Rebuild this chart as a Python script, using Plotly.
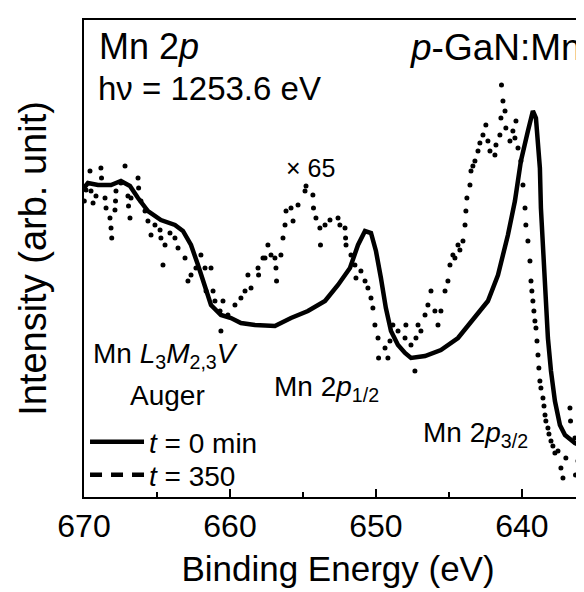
import plotly.graph_objects as go

# ---- data (binding energy in eV, intensity in arb. units) ----
be_t0 = [670.0, 669.73, 669.04, 668.15, 667.47, 666.85, 666.30, 665.62, 664.73, 663.77,
         663.22, 662.67, 662.19, 661.71, 661.30, 660.62, 659.93, 659.25, 658.29, 656.92,
         655.82, 654.66, 653.49, 652.60, 651.78, 651.23, 650.75, 650.34, 650.00, 649.66,
         649.32, 648.97, 648.49, 648.01, 647.60, 646.64, 645.55, 644.38, 643.22, 642.33,
         641.64, 640.96, 640.48, 640.07, 639.59, 639.25, 639.04, 638.77, 638.70, 638.56,
         638.42, 638.22, 638.01, 637.74, 637.40, 637.05, 636.37, 635.27]
int_t0 = [309, 314, 312, 312, 316, 311, 299, 286, 277, 272,
          266, 252, 232, 209, 192, 182, 179, 174, 172, 171,
          179, 186, 196, 212, 229, 252, 266, 264, 246, 219,
          189, 166, 152, 144, 139, 141, 147, 159, 179, 196,
          222, 262, 296, 336, 366, 386, 379, 329, 289, 246,
          202, 159, 126, 96, 72, 62, 54, 46]

be_t350 = [669.98, 669.86, 669.59, 669.52, 669.38, 669.18, 668.84, 668.80, 668.56, 668.49,
           668.22, 668.15, 668.10, 667.88, 667.84, 667.81, 667.47, 667.19, 666.99, 666.95,
           666.85, 666.78, 666.30, 666.26, 666.10, 665.82, 665.62, 665.41, 665.14, 664.79,
           664.73, 664.59, 664.45, 664.11, 663.77, 663.56, 663.08, 662.88, 662.67, 662.33,
           661.99, 661.71, 661.64, 661.30, 661.16, 661.03, 660.68, 660.62, 660.48, 660.14,
           659.66, 659.25, 658.97, 658.77, 658.56, 658.08, 658.04, 657.74, 657.60, 657.40,
           657.19, 656.92, 656.85, 656.81, 656.51, 656.37, 656.23, 656.16, 655.82, 655.68,
           655.34, 654.86, 654.79, 654.32, 654.28, 654.11, 653.84, 653.80, 653.49, 653.15,
           652.60, 652.47, 652.12, 652.08, 652.05, 651.71, 651.44, 651.37, 651.03, 650.75,
           650.55, 650.34, 650.21, 650.07, 649.86, 649.82, 649.38, 649.18, 649.04, 648.84,
           648.49, 648.01, 647.95, 647.60, 647.33, 647.26, 647.12, 646.92, 646.64, 646.44,
           646.23, 645.96, 645.75, 645.55, 645.27, 645.07, 644.93, 644.73, 644.59, 644.38,
           644.25, 644.04, 643.90, 643.84, 643.77, 643.56, 643.49, 643.36, 643.22, 643.01,
           642.88, 642.67, 642.47, 642.33, 642.19, 641.85, 641.78, 641.51, 641.44, 641.40,
           641.30, 641.16, 641.10, 640.82, 640.62, 640.48, 640.41, 640.27, 640.07, 639.93,
           639.79, 639.73, 639.59, 639.45, 639.38, 639.32, 639.25, 639.18, 639.11, 639.04,
           638.97, 638.90, 638.84, 638.77, 638.70, 638.56, 638.49, 638.42, 638.36, 638.22,
           638.15, 638.01, 637.88, 637.74, 637.53, 637.33, 637.19, 636.99, 636.71, 636.67,
           636.37, 636.33, 636.16, 635.96, 635.68, 635.34]
int_t350 = [296, 307, 326, 306, 294, 301, 329, 319, 299, 289,
            279, 269, 259, 287, 296, 306, 314, 331, 301, 291,
            279, 299, 319, 309, 296, 286, 276, 262, 272, 267,
            259, 232, 252, 264, 259, 249, 239, 216, 222, 229,
            242, 229, 206, 229, 206, 196, 186, 166, 196, 182,
            192, 199, 206, 222, 209, 229, 222, 239, 239, 252,
            242, 239, 229, 216, 242, 259, 272, 286, 289, 276,
            292, 306, 311, 302, 289, 279, 269, 252, 272, 277,
            279, 272, 269, 259, 252, 242, 232, 219, 226, 216,
            209, 199, 189, 172, 159, 139, 149, 139, 156, 172,
            166, 159, 172, 152, 126, 159, 172, 166, 182, 192,
            206, 186, 172, 186, 206, 216, 232, 242, 239, 252,
            247, 256, 272, 286, 299, 312, 326, 331, 336, 346,
            354, 362, 372, 356, 346, 342, 352, 362, 379, 412,
            396, 386, 369, 356, 366, 359, 376, 349, 336, 312,
            289, 272, 256, 236, 216, 206, 196, 186, 176, 169,
            156, 142, 129, 116, 109, 99, 91, 82, 76, 69,
            63, 56, 51, 44, 46, 29, 19, 39, 89, 76,
            59, 22, 36, 49, 69, 76]

x_ticks = [670, 660, 650, 640]
x_tick_labels = ["670", "660", "650", "640"]

FONT = "Liberation Sans, Arial, Helvetica, sans-serif"

fig = go.Figure()

fig.add_trace(go.Scatter(
    x=be_t0, y=int_t0, mode="lines",
    line=dict(color="black", width=4.5),
    name="<i>t</i> = 0 min", showlegend=True, legend="legend",
))
fig.add_trace(go.Scatter(
    x=be_t350, y=int_t350, mode="markers",
    marker=dict(color="black", size=5, line=dict(width=0)),
    name="<i>t</i> = 350", showlegend=False,
))
# legend entry for the t = 350 spectrum (drawn as a dashed sample)
fig.add_trace(go.Scatter(
    x=[None], y=[None], mode="lines",
    line=dict(color="black", width=4.5, dash="12px,9px"),
    name="<i>t</i> = 350", showlegend=True, legend="legend2",
))

annots = [
    dict(x=669.1, y=451, text="Mn 2<i>p</i>", size=36, xanchor="left"),
    dict(x=669.2, y=409, text="h\u03bd = 1253.6 eV", size=33, xanchor="left"),
    dict(x=647.8, y=450, text="<i>p</i>-GaN:Mn", size=37, xanchor="left"),
    dict(x=654.5, y=329, text="\u00d7 65", size=25, xanchor="center"),
    dict(x=664.45, y=142, text="Mn <i>L</i><sub>3</sub><i>M</i><sub>2,3</sub><i>V</i>", size=28, xanchor="center"),
    dict(x=664.25, y=102, text="Auger", size=28, xanchor="center"),
    dict(x=653.36, y=109, text="Mn 2<i>p</i><sub>1/2</sub>", size=28, xanchor="center"),
    dict(x=643.15, y=63, text="Mn 2<i>p</i><sub>3/2</sub>", size=28, xanchor="center"),
]
for a in annots:
    fig.add_annotation(x=a["x"], y=a["y"], xref="x", yref="y", text=a["text"],
                       showarrow=False, xanchor=a["xanchor"], yanchor="middle",
                       font=dict(family=FONT, size=a["size"], color="black"))

leg_common = dict(xanchor="left", yanchor="middle", bgcolor="rgba(0,0,0,0)", borderwidth=0,
                  font=dict(family=FONT, size=28, color="black"), itemwidth=54)

fig.update_layout(
    width=584, height=592,
    margin=dict(l=76, r=0, t=12, b=103),
    paper_bgcolor="white", plot_bgcolor="white",
    font=dict(family=FONT, color="black"),
    showlegend=True,
    legend=dict(x=0.002, y=0.115, **leg_common),
    legend2=dict(x=0.002, y=0.046, **leg_common),
    xaxis=dict(
        range=[670, 635.2], tickvals=x_ticks, ticktext=x_tick_labels,
        ticks="inside", ticklen=8, tickwidth=2, tickcolor="black",
        minor=dict(dtick=5, tick0=635, ticks="inside", ticklen=5, tickwidth=2, tickcolor="black"),
        showline=True, linecolor="black", linewidth=2, mirror=True,
        showgrid=False, zeroline=False,
        tickfont=dict(family=FONT, size=32, color="black"),
        title=dict(text="Binding Energy (eV)", font=dict(family=FONT, size=35, color="black"),
                   standoff=13),
    ),
    yaxis=dict(
        range=[0, 477], showticklabels=False, ticks="",
        showline=True, linecolor="black", linewidth=2, mirror=False,
        showgrid=False, zeroline=False,
        title=dict(text="Intensity (arb. unit)", font=dict(family=FONT, size=38, color="black"),
                   standoff=24),
    ),
)

fig.write_html("out.html")
